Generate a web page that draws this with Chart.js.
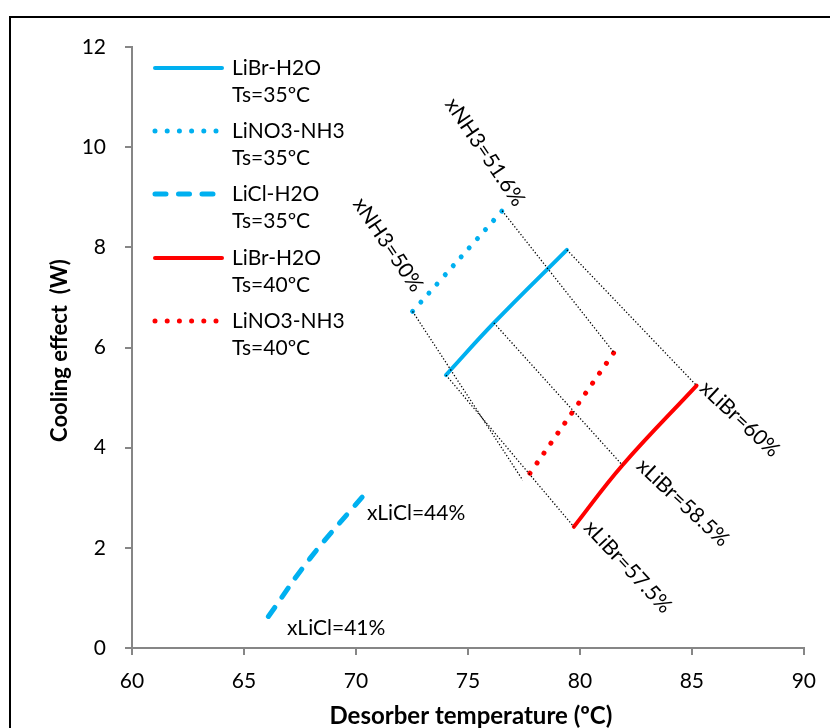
<!DOCTYPE html>
<html><head><meta charset="utf-8">
<script src="https://cdn.jsdelivr.net/npm/chart.js@4"></script>
<style>html,body{margin:0;padding:0;background:#fff;} canvas{display:block;}</style>
</head><body>
<canvas id="c" width="830" height="728"></canvas>
<script>
// ---- data ----
const xTicks = [60, 65, 70, 75, 80, 85, 90];
const yTicks = [0, 2, 4, 6, 8, 10, 12];

const libr35T = [74.02, 76.16, 79.42];
const libr35Q = [5.45, 6.49, 7.95];
const lino335T = [72.53, 76.53];
const lino335Q = [6.72, 8.73];
const licl35T = [66.09, 67.95, 70.33];
const licl35Q = [0.63, 1.79, 3.04];
const libr40T = [79.73, 81.90, 85.21];
const libr40Q = [2.42, 3.65, 5.24];
const lino340T = [77.77, 81.52];
const lino340Q = [3.49, 5.90];

const seriesNames = [['LiBr-H2O', 'Ts=35ºC'], ['LiNO3-NH3', 'Ts=35ºC'], ['LiCl-H2O', 'Ts=35ºC'], ['LiBr-H2O', 'Ts=40ºC'], ['LiNO3-NH3', 'Ts=40ºC']];

// iso-concentration guide lines
const guideNames = ['xNH3=51.6%', 'xNH3=50%', 'xLiBr=57.5%', 'xLiBr=58.5%', 'xLiBr=60%'];
const guideT = [[76.53, 81.52], [72.53, 77.45], [74.02, 79.73], [76.16, 81.90], [79.42, 85.21]];
const guideQ = [[8.73, 5.90], [6.72, 3.35], [5.45, 2.42], [6.49, 3.65], [7.95, 5.24]];

// text annotations
const noteText = ['xNH3=51.6%', 'xNH3=50%', 'xLiBr=60%', 'xLiBr=58.5%', 'xLiBr=57.5%', 'xLiCl=44%', 'xLiCl=41%'];
const noteT = [75.76, 71.43, 87.14, 84.60, 82.14, 70.49, 66.92];
const noteQ = [9.90, 8.05, 4.57, 2.90, 1.62, 2.70, 0.40];
const noteAngle = [56, 56, 43, 43, 47, 0, 0];

// ---- styles ----
const BLUE = '#00B0F0', RED = '#FF0000', AXIS = '#868686';
const FONT = 'Lato, "Open Sans", sans-serif';

function pts(T, Q) { return T.map((t, i) => ({ x: t, y: Q[i] })); }

const styles = [
  { color: BLUE, dash: [], width: 4 },
  { color: BLUE, dash: [0.01, 12.19], width: 5 },
  { color: BLUE, dash: [11, 12.5], width: 5 },
  { color: RED, dash: [], width: 4 },
  { color: RED, dash: [0.01, 12.19], width: 5 }
];
const seriesData = [pts(libr35T, libr35Q), pts(lino335T, lino335Q), pts(licl35T, licl35Q), pts(libr40T, libr40Q), pts(lino340T, lino340Q)];

const datasets = seriesData.map((d, i) => ({
  label: seriesNames[i].join(' '),
  data: d,
  showLine: true,
  borderColor: styles[i].color,
  backgroundColor: styles[i].color,
  borderWidth: styles[i].width,
  borderDash: styles[i].dash,
  borderCapStyle: 'round',
  borderJoinStyle: 'round',
  tension: 0.4,
  pointRadius: 0,
  order: 2
}));
guideNames.forEach((n, i) => {
  datasets.push({
    label: n,
    data: pts(guideT[i], guideQ[i]),
    showLine: true,
    borderColor: '#000',
    borderWidth: 1.3,
    borderDash: [1.3, 2],
    pointRadius: 0,
    tension: 0,
    order: 1
  });
});

const overlay = {
  id: 'overlay',
  beforeDraw(chart) {
    const ctx = chart.ctx;
    ctx.save();
    ctx.fillStyle = '#fff';
    ctx.fillRect(0, 0, chart.width, chart.height);
    ctx.strokeStyle = '#000';
    ctx.lineWidth = 2;
    ctx.strokeRect(10, 17, 900, 900);
    ctx.restore();
  },
  afterDraw(chart) {
    const ctx = chart.ctx;
    const xs = chart.scales.x, ys = chart.scales.y;
    const ca = chart.chartArea;
    ctx.save();
    // axis titles
    ctx.fillStyle = '#000';
    ctx.textAlign = 'center';
    ctx.textBaseline = 'middle';
    ctx.font = 'bold 24px ' + FONT;
    ctx.fillText('Desorber temperature (ºC)', (ca.left + ca.right) / 2 + 3, 716);
    ctx.save();
    ctx.translate(60, (ca.top + ca.bottom) / 2 + 3);
    ctx.rotate(-Math.PI / 2);
    ctx.font = 'bold 22px ' + FONT;
    ctx.fillText('Cooling effect  (W)', 0, 0);
    ctx.restore();

    // annotations
    ctx.font = '21px ' + FONT;
    noteText.forEach((t, i) => {
      const px = xs.getPixelForValue(noteT[i]);
      const py = ys.getPixelForValue(noteQ[i]);
      ctx.save();
      ctx.translate(px, py);
      ctx.rotate(noteAngle[i] * Math.PI / 180);
      ctx.textAlign = noteAngle[i] === 0 ? 'left' : 'center';
      ctx.fillText(t, 0, 0);
      ctx.restore();
    });

    // legend
    const lx0 = 155, tx = 232;
    const ly = [68, 131, 194, 258, 321];
    seriesNames.forEach((nm, i) => {
      const s = styles[i];
      ctx.save();
      ctx.strokeStyle = s.color;
      ctx.lineWidth = s.width;
      ctx.lineCap = 'round';
      ctx.setLineDash(s.dash);
      ctx.beginPath();
      ctx.moveTo(lx0, ly[i]);
      ctx.lineTo(s.dash.length ? 219 : 222, ly[i]);
      ctx.stroke();
      ctx.restore();
      ctx.fillStyle = '#000';
      ctx.textAlign = 'left';
      ctx.textBaseline = 'middle';
      ctx.font = '21px ' + FONT;
      ctx.fillText(nm[0], tx, ly[i]);
      ctx.fillText(nm[1], tx, ly[i] + 27);
    });
    ctx.restore();
  }
};

new Chart(document.getElementById('c'), {
  type: 'scatter',
  data: { datasets },
  options: {
    responsive: false,
    devicePixelRatio: 1,
    animation: false,
    layout: { padding: { left: 0, right: 26, top: 47, bottom: 0 } },
    plugins: { legend: { display: false }, tooltip: { enabled: false } },
    scales: {
      x: {
        type: 'linear', min: 60, max: 90,
        afterBuildTicks: s => { s.ticks = xTicks.map(v => ({ value: v })); },
        afterFit: s => { s.height = 80; },
        ticks: { color: '#000', font: { family: FONT, size: 21 }, padding: 14, maxRotation: 0 },
        grid: { drawOnChartArea: false, drawTicks: true, tickLength: 7, color: AXIS, lineWidth: 2 },
        border: { color: AXIS, width: 2 }
      },
      y: {
        type: 'linear', min: 0, max: 12,
        afterBuildTicks: s => { s.ticks = yTicks.map(v => ({ value: v })); },
        afterFit: s => { s.width = 132; },
        ticks: { color: '#000', font: { family: FONT, size: 21 }, padding: 19 },
        grid: { drawOnChartArea: false, drawTicks: true, tickLength: 7, color: AXIS, lineWidth: 2 },
        border: { color: AXIS, width: 2 }
      }
    }
  },
  plugins: [overlay]
});
</script>
</body></html>
